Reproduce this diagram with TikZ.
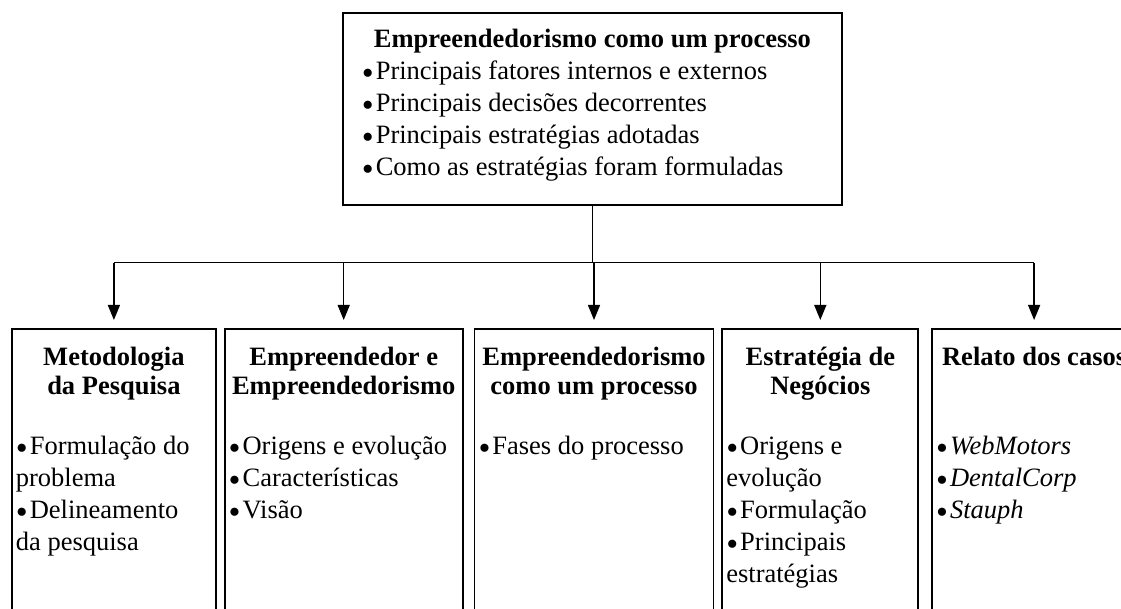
\documentclass[tikz,border=0pt]{standalone}
\usepackage{fontspec}
\setmainfont{Liberation Serif}
\usetikzlibrary{arrows.meta,positioning}

% bullet and column text
\newcommand{\bul}{\smash{\raisebox{-5pt}{\fontsize{34}{32}\selectfont•}}\kern2pt}
\newcommand{\coltext}[3]{\parbox[c][300pt][t]{#1}{\raggedright
  {\centering\bfseries\fontsize{26.5}{29}\selectfont\rule{0pt}{37pt}#2\par}
  \vspace{28pt}#3}}

\tikzset{
  topbox/.style={draw, line width=1.8pt, inner sep=0pt, anchor=north west},
  colbox/.style={draw, line width=1.8pt, inner xsep=4pt, inner ysep=0pt},
  connector/.style={line width=1.4pt},
  feed/.style={connector, -{Triangle[length=15pt,width=12pt]}, shorten >=8pt}
}

\begin{document}
\begin{tikzpicture}[x=1pt, y=-1pt, font=\fontsize{26.5}{32}\selectfont]
  \useasboundingbox (0,0) rectangle (1121,609);
  \clip (0,0) rectangle (1121,609);

  \node[topbox] (processo) at (342,12) {\parbox[c][192pt][t]{499pt}{\raggedright
    {\centering\bfseries\rule{0pt}{35pt}Empreendedorismo como um processo\par}
    \leftskip=19pt
    \bul Principais fatores internos e externos\\
    \bul Principais decisões decorrentes\\
    \bul Principais estratégias adotadas\\
    \bul Como as estratégias foram formuladas}};

  \node[colbox, anchor=north west] (metodologia) at (11,328)
    {\coltext{196pt}{Metodologia\\da Pesquisa}
      {\bul Formulação do\\problema\\\bul Delineamento\\da pesquisa}};
  \node[colbox, right=7pt of metodologia] (empreendedor)
    {\coltext{230pt}{Empreendedor e\\Empreendedorismo}
      {\bul Origens e evolução\\\bul Características\\\bul Visão}};
  \node[colbox, right=10pt of empreendedor] (fases)
    {\coltext{231pt}{Empreendedorismo\\como um processo}
      {\bul Fases do processo}};
  \node[colbox, right=7pt of fases] (estrategia)
    {\coltext{188pt}{Estratégia de\\Negócios}
      {\bul Origens e\\evolução\\\bul Formulação\\\bul Principais\\estratégias}};
  \node[colbox, right=12pt of estrategia] (relato)
    {\coltext{196pt}{Relato dos casos\\\strut}
      {\bul\textit{WebMotors}\\\bul\textit{DentalCorp}\\\bul\textit{Stauph}}};

  \path (processo.south) ++(0,57) coordinate (split);
  \draw[connector] (processo.south) -- (split);
  \draw[connector] (split -| metodologia.north) -- (split -| relato.north);
  \foreach \col in {metodologia,empreendedor,fases,estrategia,relato}
    \draw[feed] (split -| \col.north) -- (\col.north);
\end{tikzpicture}
\end{document}
